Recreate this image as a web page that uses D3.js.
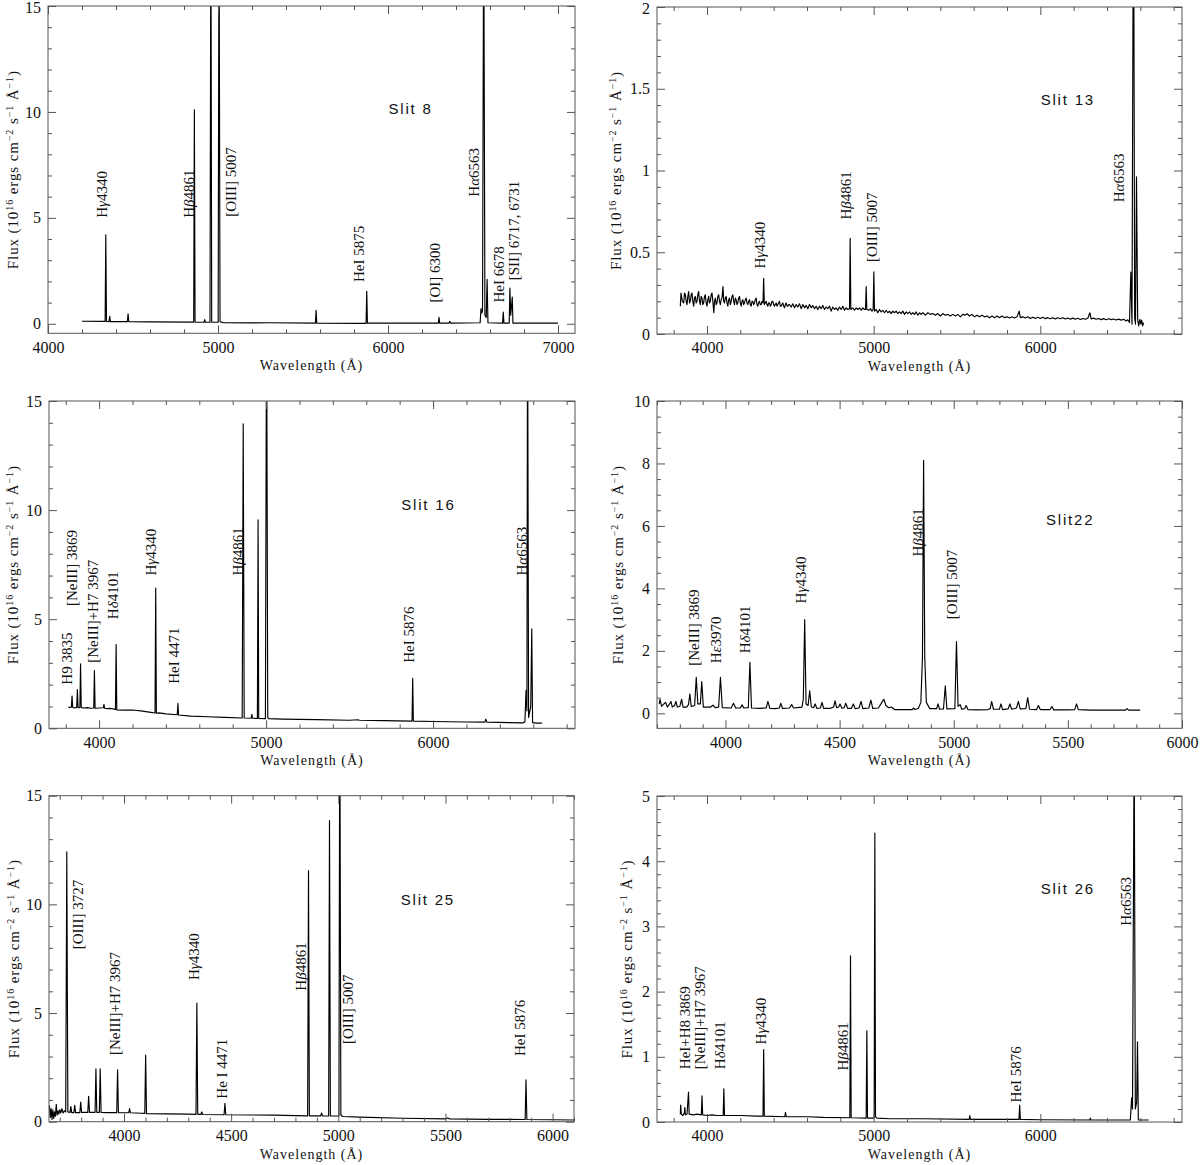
<!DOCTYPE html>
<html>
<head>
<meta charset="utf-8">
<script src="https://cdn.jsdelivr.net/npm/d3@7"></script>
<style>
  body { margin: 0; background: #fff; }
  text { font-family: "Liberation Serif", "DejaVu Serif", serif; fill: #111; }
  .slit { font-family: "Liberation Sans", Arial, sans-serif; font-size: 15px; letter-spacing: 1.8px; }
</style>
</head>
<body>
<svg id="fig" width="1200" height="1165"></svg>
<script>
// spectra: [wavelength (A), flux] points
const slit8 = [[4200,0.12],[4336,0.11],[4340,4.2],[4344,0.11],[4359,0.1],[4363,0.35],[4367,0.1],[4467,0.1],[4471,0.47],[4475,0.1],
  [4600,0.09],[4857,0.08],[4861,10.1],[4865,0.08],[4918,0.07],[4922,0.2],[4926,0.07],[4953,0.07],[4958,20],[4963,0.07],
  [5001,0.07],[5006,20],[5012,0.1],[5030,0.05],[5200,0.04],[5300,0.05],[5573,0.03],[5577,0.63],[5581,0.03],[5871,0.02],
  [5875,1.53],[5879,0.03],[6296,0.03],[6300,0.3],[6304,0.03],[6359,0.03],[6363,0.12],[6367,0.03],[6542,0.05],[6547,0.72],
  [6552,0.5],[6556,0.6],[6563,20],[6570,0.4],[6578,0.3],[6583,2.1],[6588,0.05],[6674,0.03],[6678,0.55],[6682,0.03],
  [6713,0.03],[6717,1.68],[6722,0.4],[6731,1.26],[6735,0.03],[7000,0.03]];

const slit13 = [[3840,.17],[3844,.25],[3852,.2],[3860,.19],[3865,.25],[3870,.24],[3875,.2],[3880,.18],[3885,.23],[3890,.26],
  [3895,.19],[3900,.20],[3905,.24],[3910,.25],[3915,.2],[3920,.17],[3925,.22],[3930,.23],[3935,.19],[3940,.20],[3945,.24],
  [3950,.26],[3955,.2],[3960,.18],[3965,.23],[3970,.22],[3975,.18],[3980,.19],[3985,.23],[3990,.24],[3995,.19],[4000,.17],
  [4005,.21],[4010,.23],[4015,.19],[4020,.20],[4025,.24],[4030,.25],[4035,.2],[4041,.13],[4045,.2],[4050,.22],[4055,.18],
  [4060,.19],[4065,.23],[4070,.24],[4075,.2],[4080,.18],[4085,.21],[4090,.22],[4096,.29],[4100,.2],[4105,.19],[4110,.22],
  [4115,.23],[4120,.19],[4125,.17],[4130,.21],[4135,.22],[4140,.18],[4145,.20],[4150,.23],[4155,.24],[4160,.2],[4165,.18],
  [4170,.22],[4175,.21],[4180,.18],[4185,.19],[4190,.22],[4195,.23],[4200,.19],[4205,.17],[4210,.2],[4215,.21],[4220,.18],
  [4225,.19],[4230,.21],[4235,.22],[4240,.19],[4245,.18],[4250,.2],[4255,.21],[4260,.18],[4265,.17],[4270,.2],[4275,.20],
  [4280,.18],[4285,.19],[4290,.21],[4295,.22],[4300,.18],[4305,.17],[4310,.19],[4315,.20],[4320,.18],[4325,.18],[4330,.2],
  [4336,.19],[4340,.34],[4344,.18],[4350,.19],[4355,.20],[4360,.18],[4365,.17],[4370,.19],[4375,.19],[4380,.17],[4385,.18],
  [4390,.2],[4395,.20],[4400,.18],[4405,.17],[4410,.18],[4415,.19],[4420,.17],[4425,.18],[4430,.19],[4435,.20],[4440,.17],
  [4445,.17],[4450,.18],[4455,.19],[4460,.17],[4465,.16],[4470,.18],[4475,.19],[4480,.17],[4485,.17],[4490,.18],[4495,.18],
  [4505,.165],[4515,.185],[4525,.16],[4535,.18],[4545,.165],[4555,.185],[4565,.155],[4575,.18],
  [4585,.16],[4595,.175],[4605,.155],[4615,.18],[4625,.16],[4635,.175],[4645,.155],[4655,.17],[4665,.15],[4675,.17],[4685,.155],
  [4695,.175],[4705,.15],[4715,.165],[4725,.155],[4735,.17],[4745,.14],[4755,.165],[4765,.15],[4775,.16],[4785,.145],[4795,.165],
  [4805,.15],[4815,.17],[4825,.145],[4835,.16],[4845,.15],[4855,.155],[4859,.585],[4863,.15],[4875,.16],[4885,.145],[4895,.16],
  [4905,.15],[4915,.16],[4925,.145],[4935,.16],[4945,.15],[4951,.15],[4955,.29],[4959,.15],[4970,.145],[4980,.155],[4990,.14],
  [4997,.15],[5001,.38],[5005,.14],[5015,.15],[5025,.13],[5035,.15],[5045,.135],[5055,.145],[5065,.13],[5075,.145],[5085,.13],
  [5095,.14],[5105,.125],[5115,.14],[5125,.13],[5135,.14],[5145,.125],[5155,.135],[5165,.125],[5175,.14],[5185,.12],[5195,.135],
  [5205,.125],[5215,.135],[5225,.12],[5235,.13],[5245,.12],[5255,.135],[5265,.115],[5275,.13],[5285,.12],[5295,.13],[5310,.115],
  [5325,.13],[5340,.12],[5355,.125],[5370,.115],[5385,.125],[5400,.11],[5415,.125],[5430,.115],[5445,.12],[5460,.11],[5475,.12],
  [5490,.11],[5505,.12],[5520,.105],[5535,.12],[5550,.115],[5560,.125],[5575,.11],[5590,.12],[5605,.105],[5620,.115],[5635,.105],
  [5650,.115],[5665,.105],[5680,.11],[5695,.1],[5710,.11],[5725,.1],[5740,.11],[5755,.1],[5770,.11],[5785,.1],[5800,.105],
  [5815,.098],[5830,.105],[5845,.098],[5860,.105],[5873,.14],[5880,.1],[5895,.105],[5910,.098],[5925,.105],[5940,.095],[5955,.103],
  [5970,.095],[5985,.102],[6000,.095],[6015,.103],[6030,.094],[6045,.1],[6060,.093],[6075,.1],[6090,.092],[6105,.1],[6120,.093],
  [6135,.1],[6150,.092],[6165,.098],[6180,.09],[6195,.097],[6210,.09],[6225,.096],[6240,.089],[6255,.095],[6270,.09],[6285,.096],
  [6297,.13],[6305,.092],[6320,.097],[6335,.09],[6350,.095],[6365,.088],[6380,.094],[6395,.087],[6410,.093],[6425,.088],[6440,.092],
  [6455,.086],[6470,.091],[6485,.085],[6500,.09],[6515,.08],[6525,.087],[6535,.07],[6543,.378],[6550,.06],[6559,3],[6566,.1],
  [6571,.06],[6577,.962],[6584,.09],[6590,.05],[6597,.09],[6603,.06],[6608,.085],[6614,.05],[6620,.07]];

const slit16 = [[3815,0.98],[3825,0.95],[3834,0.97],[3838,1.48],[3842,0.96],[3850,0.93],[3866,0.96],[3870,1.78],[3874,0.95],
  [3885,0.96],[3889,2.96],[3893,0.95],[3910,0.93],[3930,0.95],[3950,0.92],[3968,0.93],[3972,2.65],[3976,0.92],[4000,0.93],
  [4025,0.94],[4029,1.1],[4033,0.92],[4050,0.9],[4070,0.91],[4090,0.88],[4098,0.86],[4102,3.84],[4106,0.84],[4150,0.83],
  [4200,0.84],[4250,0.8],[4300,0.74],[4335,0.7],[4339,6.43],[4343,0.69],[4360,0.71],[4400,0.66],[4468,0.62],[4472,1.14],
  [4476,0.61],[4550,0.56],[4650,0.53],[4750,0.5],[4857,0.47],[4863,13.95],[4869,0.47],[4911,0.46],[4915,0.64],[4919,0.46],
  [4948,0.45],[4952,9.56],[4956,0.45],[4996,0.44],[5003,20],[5010,0.5],[5015,0.44],[5100,0.42],[5300,0.4],[5500,0.37],
  [5550,0.39],[5560,0.37],[5700,0.35],[5874,0.33],[5878,2.29],[5882,0.33],[6000,0.31],[6200,0.29],[6310,0.28],[6316,0.42],
  [6322,0.28],[6540,0.25],[6550,0.3],[6557,1.74],[6562,0.8],[6566,20],[6572,0.5],[6585,1.0],[6591,4.56],[6596,0.26],
  [6620,0.24],[6653,0.24]];

const slit22 = [[3710,0.3],[3713,0.45],[3720,0.22],[3730,0.3],[3738,0.35],[3745,0.2],[3755,0.3],[3761,0.38],[3767,0.2],
  [3777,0.25],[3783,0.38],[3789,0.2],[3800,0.22],[3808,0.45],[3814,0.2],[3830,0.2],[3838,0.28],[3844,0.62],[3850,0.22],
  [3865,0.25],[3872,1.15],[3879,0.3],[3890,0.3],[3896,1.02],[3903,0.2],[3935,0.2],[3945,0.26],[3955,0.18],[3970,0.2],
  [3978,1.15],[3986,0.18],[4025,0.17],[4035,0.32],[4045,0.17],[4065,0.17],[4073,0.27],[4080,0.17],[4100,0.18],[4107,1.63],
  [4114,0.17],[4150,0.16],[4178,0.17],[4186,0.38],[4194,0.16],[4220,0.15],[4236,0.17],[4242,0.32],[4250,0.16],[4280,0.17],
  [4290,0.28],[4298,0.17],[4335,0.2],[4341,0.45],[4347,3.0],[4353,0.3],[4362,0.25],[4369,0.72],[4376,0.2],[4386,0.18],
  [4393,0.3],[4400,0.16],[4416,0.17],[4423,0.35],[4430,0.16],[4460,0.16],[4474,0.2],[4480,0.4],[4487,0.18],[4496,0.2],
  [4502,0.3],[4510,0.16],[4520,0.18],[4527,0.32],[4535,0.16],[4552,0.16],[4560,0.3],[4568,0.15],[4585,0.17],[4594,0.38],
  [4602,0.15],[4628,0.17],[4637,0.42],[4645,0.16],[4670,0.17],[4685,0.35],[4694,0.45],[4703,0.25],[4715,0.18],[4727,0.2],
  [4740,0.12],[4800,0.12],[4818,0.12],[4824,0.17],[4830,0.12],[4845,0.16],[4856,0.35],[4863,1.8],[4868,8.1],[4873,1.8],
  [4880,0.35],[4895,0.15],[4925,0.15],[4931,0.3],[4938,0.13],[4955,0.14],[4963,0.88],[4970,0.14],[5005,0.15],[5012,2.3],
  [5019,0.22],[5028,0.28],[5035,0.13],[5048,0.15],[5054,0.25],[5062,0.12],[5100,0.11],[5150,0.12],[5160,0.15],[5166,0.38],
  [5174,0.13],[5200,0.13],[5207,0.3],[5214,0.12],[5238,0.14],[5246,0.3],[5254,0.13],[5275,0.17],[5283,0.38],[5291,0.14],
  [5316,0.15],[5324,0.5],[5332,0.13],[5363,0.12],[5371,0.25],[5379,0.12],[5422,0.12],[5430,0.22],[5438,0.11],[5500,0.11],
  [5530,0.12],[5538,0.3],[5546,0.12],[5600,0.1],[5700,0.1],[5752,0.1],[5759,0.15],[5766,0.1],[5817,0.1]];

const slit25 = [[3652,0.75],[3656,0.2],[3660,0.6],[3664,0.1],[3668,0.55],[3672,0.15],[3676,0.45],[3680,0.25],[3684,0.8],
  [3688,0.3],[3692,0.5],[3696,0.35],[3700,0.55],[3705,0.4],[3710,0.6],[3716,0.4],[3722,0.5],[3728,0.45],[3733,12.42],
  [3738,0.45],[3748,0.42],[3752,0.7],[3756,0.42],[3766,0.42],[3770,0.75],[3774,0.42],[3794,0.42],[3798,0.9],[3802,0.43],
  [3831,0.43],[3835,1.17],[3839,0.43],[3865,0.43],[3869,2.43],[3873,0.43],[3885,0.43],[3889,2.43],[3893,0.43],[3930,0.42],
  [3966,0.42],[3970,2.39],[3974,0.42],[4022,0.41],[4026,0.6],[4030,0.41],[4080,0.39],[4097,0.38],[4101,3.07],[4105,0.37],
  [4200,0.36],[4300,0.35],[4336,0.34],[4340,5.46],[4344,0.34],[4359,0.34],[4363,0.45],[4367,0.33],[4467,0.32],[4471,0.84],
  [4475,0.32],[4600,0.31],[4700,0.3],[4800,0.28],[4857,0.27],[4861,11.55],[4865,0.27],[4918,0.27],[4922,0.4],[4926,0.27],
  [4955,0.26],[4959,13.86],[4963,0.26],[5003,0.26],[5007,20],[5012,0.32],[5020,0.24],[5100,0.21],[5300,0.16],[5500,0.13],
  [5510,0.17],[5520,0.13],[5700,0.11],[5872,0.1],[5876,1.93],[5880,0.1],[6000,0.09],[6100,0.08]];

const slit26 = [[3840,0.12],[3842,0.26],[3846,0.12],[3856,0.1],[3864,0.14],[3867,0.22],[3870,0.11],[3880,0.12],[3889,0.46],
  [3893,0.12],[3920,0.11],[3940,0.12],[3966,0.11],[3970,0.4],[3974,0.11],[4000,0.1],[4030,0.11],[4060,0.1],[4097,0.1],
  [4101,0.51],[4105,0.1],[4200,0.1],[4300,0.09],[4336,0.09],[4340,1.11],[4344,0.09],[4467,0.08],[4471,0.15],[4475,0.08],
  [4600,0.08],[4700,0.07],[4857,0.065],[4861,2.55],[4865,0.065],[4955,0.06],[4959,1.4],[4963,0.06],[5003,0.06],[5007,4.43],
  [5011,0.08],[5020,0.06],[5100,0.05],[5300,0.05],[5573,0.04],[5577,0.1],[5581,0.04],[5700,0.04],[5872,0.04],[5876,0.26],
  [5880,0.04],[6000,0.035],[6296,0.03],[6300,0.06],[6304,0.03],[6540,0.03],[6548,0.37],[6553,0.2],[6563,6],[6570,0.2],
  [6578,0.3],[6583,1.23],[6588,0.03],[6650,0.03]];

// line identifications: [label, wavelength of label, flux where label starts]
const slit8Notes = [["Hγ4340",4320,5.0],["Hβ4861",4827,5.0],["[OIII] 5007",5074,5.05],["HeI 5875",5829,1.97],
  ["[OI] 6300",6279,1.0],["Hα6563",6505,6.0],["HeI 6678",6651,1.0],["[SII] 6717, 6731",6741,2.05]];
const slit13Notes = [["Hγ4340",4316,0.40],["Hβ4861",4836,0.70],["[OIII] 5007",4990,0.44],["Hα6563",6473,0.806]];
const slit16Notes = [["H9 3835",3810,2.0],["[NeIII] 3869",3838,5.6],["[NeIII]+H7 3967",3961,3.0],["Hδ4101",4083,5.0],
  ["Hγ4340",4311,7.0],["HeI 4471",4451,2.04],["Hβ4861",4831,7.0],["HeI 5876",5857,3.0],["Hα6563",6533,7.0]];
const slit22Notes = [["[NeIII] 3869",3863,1.52],["Hε3970",3958,1.6],["Hδ4101",4085,1.92],["Hγ4340",4331,3.52],
  ["Hβ4861",4844,5.02],["[OIII] 5007",4992,3.01]];
const slit25Notes = [["[OIII] 3727",3784,7.93],["[NeIII]+H7 3967",3960,3.07],["Hγ4340",4325,6.52],["He I 4471",4456,1.06],
  ["Hβ4861",4825,6.03],["[OIII] 5007",5044,3.57],["HeI 5876",5846,3.02]];
const slit26Notes = [["HeI+H8 3869",3867,0.81],["[NeIII]+H7 3967",3959,0.81],["Hδ4101",4080,0.81],["Hγ4340",4321,1.19],
  ["Hβ4861",4818,0.79],["HeI 5876",5851,0.30],["Hα6563",6515,3.01]];

// tick labels
const ticks7000 = [4000, 5000, 6000, 7000];
const ticks6000 = [4000, 5000, 6000];
const ticksHalf = [4000, 4500, 5000, 5500, 6000];
const flux15 = [0, 5, 10, 15];
const flux2 = [0, 0.5, 1, 1.5, 2];
const flux10 = [0, 2, 4, 6, 8, 10];
const flux5 = [0, 1, 2, 3, 4, 5];

const panels = [
  { slit: "Slit 8",  data: slit8,  notes: slit8Notes,  box: [48, 6, 575, 333.3],   xDom: [4000, 7100], yDom: [-0.45, 15],
    xt: ticks7000, xm: 200, yt: flux15, ym: 1,   slitAt: [6133, 10.15], titleOff: 30 },
  { slit: "Slit 13", data: slit13, notes: slit13Notes, box: [657, 7, 1182, 334],   xDom: [3700, 6850], yDom: [0, 2],
    xt: ticks6000, xm: 200, yt: flux2,  ym: 0.1, slitAt: [6165, 1.43], titleOff: 36 },
  { slit: "Slit 16", data: slit16, notes: slit16Notes, box: [49, 401, 575, 728.3], xDom: [3700, 6850], yDom: [0, 15],
    xt: ticks6000, xm: 200, yt: flux15, ym: 1,   slitAt: [5972, 10.25], titleOff: 31 },
  { slit: "Slit22",  data: slit22, notes: slit22Notes, box: [657, 401, 1182, 728.3], xDom: [3700, 6000], yDom: [-0.48, 10],
    xt: ticksHalf, xm: 100, yt: flux10, ym: 0.5, slitAt: [5510, 6.19], titleOff: 34 },
  { slit: "Slit 25", data: slit25, notes: slit25Notes, box: [49, 795.7, 574, 1121.7], xDom: [3650, 6100], yDom: [0, 15],
    xt: ticksHalf, xm: 100, yt: flux15, ym: 1,   slitAt: [5418, 10.2], titleOff: 30 },
  { slit: "Slit 26", data: slit26, notes: slit26Notes, box: [657, 796, 1182, 1122], xDom: [3700, 6850], yDom: [0, 5],
    xt: ticks6000, xm: 200, yt: flux5,  ym: 0.2, slitAt: [6165, 3.58], titleOff: 25 }
];

const svg = d3.select("#fig");
svg.append("rect").attr("width", 1200).attr("height", 1165).attr("fill", "#fff");

// greek letters in italics
function richText(sel, str) {
  str.split(/([αβγδε])/).filter(s => s.length).forEach(s => {
    const t = sel.append("tspan").text(s);
    if (/[αβγδε]/.test(s)) t.attr("font-style", "italic");
  });
}

function minorTicks(dom, step, majors) {
  const out = [];
  for (let v = Math.ceil(dom[0] / step - 1e-9) * step; v <= dom[1] + 1e-9; v += step) {
    const r = Math.round(v * 1000) / 1000;
    if (!majors.some(m => Math.abs(m - r) < 1e-6)) out.push(r);
  }
  return out;
}

panels.forEach((p, i) => {
  const [x0, y0, x1, y1] = p.box;
  const x = d3.scaleLinear().domain(p.xDom).range([x0, x1]);
  const y = d3.scaleLinear().domain(p.yDom).range([y1, y0]);
  const g = svg.append("g");

  svg.append("clipPath").attr("id", "clip" + i)
    .append("rect").attr("x", x0).attr("y", y0).attr("width", x1 - x0).attr("height", y1 - y0);

  // spectrum
  const line = d3.line().x(d => x(d[0])).y(d => y(d[1]));
  g.append("path").datum(p.data)
    .attr("d", line)
    .attr("clip-path", "url(#clip" + i + ")")
    .attr("fill", "none")
    .attr("stroke", "#000")
    .attr("stroke-width", 1.15)
    .attr("stroke-linejoin", "round");

  // axes, ticks pointing inward on all four sides
  const xMin = minorTicks(p.xDom, p.xm, p.xt);
  const yMaj = p.yt.slice();
  const yMin = minorTicks([Math.max(p.yDom[0], 0), p.yDom[1]], p.ym, yMaj);
  const fmt = d => String(d);

  g.append("g").attr("transform", "translate(0," + y1 + ")")
    .call(d3.axisBottom(x).tickValues(p.xt).tickSizeInner(-8).tickSizeOuter(0).tickPadding(8).tickFormat(fmt));
  g.append("g").attr("transform", "translate(0," + y1 + ")")
    .call(d3.axisBottom(x).tickValues(xMin).tickSizeInner(-4).tickSizeOuter(0).tickFormat(""));
  g.append("g").attr("transform", "translate(0," + y0 + ")")
    .call(d3.axisTop(x).tickValues(p.xt).tickSizeInner(-8).tickSizeOuter(0).tickFormat(""));
  g.append("g").attr("transform", "translate(0," + y0 + ")")
    .call(d3.axisTop(x).tickValues(xMin).tickSizeInner(-4).tickSizeOuter(0).tickFormat(""));

  const leftAx = g.append("g").attr("transform", "translate(" + x0 + ",0)")
    .call(d3.axisLeft(y).tickValues(yMaj).tickSizeInner(-8).tickSizeOuter(0).tickPadding(7).tickFormat(fmt));
  g.append("g").attr("transform", "translate(" + x0 + ",0)")
    .call(d3.axisLeft(y).tickValues(yMin).tickSizeInner(-4).tickSizeOuter(0).tickFormat(""));
  g.append("g").attr("transform", "translate(" + x1 + ",0)")
    .call(d3.axisRight(y).tickValues(yMaj).tickSizeInner(-8).tickSizeOuter(0).tickFormat(""));
  g.append("g").attr("transform", "translate(" + x1 + ",0)")
    .call(d3.axisRight(y).tickValues(yMin).tickSizeInner(-4).tickSizeOuter(0).tickFormat(""));

  g.selectAll(".domain").remove();
  g.selectAll(".tick line").attr("stroke", "#555");
  g.selectAll(".tick text")
    .style("font-family", '"Liberation Serif", serif')
    .style("font-size", "16px")
    .attr("fill", "#111");
  // keep the top label inside the picture
  leftAx.selectAll(".tick text").filter(d => y(d) < 10).attr("y", 1.5);

  g.append("rect")
    .attr("x", x0).attr("y", y0).attr("width", x1 - x0).attr("height", y1 - y0)
    .attr("fill", "none").attr("stroke", "#555").attr("stroke-width", 1);

  // axis titles
  g.append("text")
    .attr("x", (x0 + x1) / 2).attr("y", y1 + 37)
    .attr("text-anchor", "middle")
    .style("font-size", "14px").attr("letter-spacing", "1px")
    .text("Wavelength (Å)");

  const yt = g.append("text")
    .attr("transform", "translate(" + (x0 - p.titleOff) + "," + ((y0 + y1) / 2) + ") rotate(-90)")
    .attr("text-anchor", "middle")
    .style("font-size", "15px").attr("letter-spacing", "0.9px");
  yt.append("tspan").text("Flux (10");
  yt.append("tspan").attr("baseline-shift", "super").style("font-size", "10px").text("16");
  yt.append("tspan").text(" ergs cm");
  yt.append("tspan").attr("baseline-shift", "super").style("font-size", "10px").text("−2");
  yt.append("tspan").text(" s");
  yt.append("tspan").attr("baseline-shift", "super").style("font-size", "10px").text("−1");
  yt.append("tspan").text(" Å");
  yt.append("tspan").attr("baseline-shift", "super").style("font-size", "10px").text("−1");
  yt.append("tspan").text(")");

  // line identifications
  p.notes.forEach(n => {
    const t = g.append("text")
      .attr("transform", "translate(" + x(n[1]) + "," + y(n[2]) + ") rotate(-90)")
      .attr("dominant-baseline", "central")
      .style("font-size", "15px");
    richText(t, n[0]);
  });

  g.append("text")
    .attr("class", "slit")
    .attr("x", x(p.slitAt[0])).attr("y", y(p.slitAt[1]) + 5)
    .attr("text-anchor", "middle")
    .text(p.slit);
});
</script>
</body>
</html>
